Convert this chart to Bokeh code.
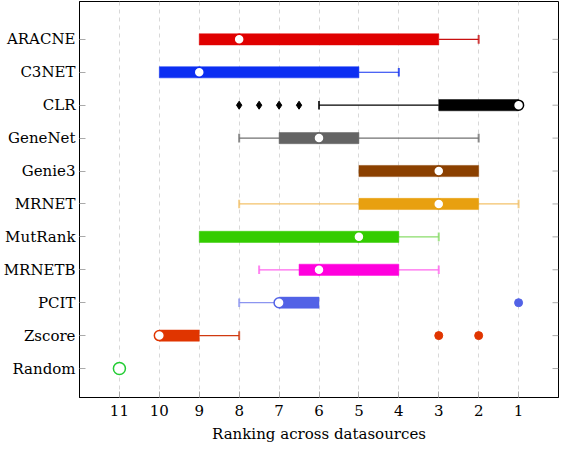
from bokeh.plotting import figure
from bokeh.models import Range1d, FixedTicker, ColumnDataSource
from bokeh.embed import file_html
from bokeh.resources import INLINE

names = ["ARACNE", "C3NET", "CLR", "GeneNet", "Genie3", "MRNET", "MutRank", "MRNETB", "PCIT", "Zscore"]
whisker_left = [9, 10, 6, 8, 5, 8, 9, 7.5, 8, 10]
box_left = [9, 10, 3, 7, 5, 5, 9, 6.5, 7, 10]
medians = [8, 9, 1, 6, 3, 3, 5, 6, 7, 10]
box_right = [3, 5, 1, 5, 2, 2, 4, 4, 6, 9]
whisker_right = [2, 4, 1, 2, 2, 1, 3, 3, 6, 8]
box_colors = ["#E00000", "#0C2EF2", "#000000", "#646464", "#8B4000", "#E8A010",
              "#33CC00", "#FF00DD", "#5262E6", "#E03500"]
whisker_colors = ["#C81010", "#1030F0", "#000000", "#707070", "#8B4000", "#F3C26A",
                  "#8ADD6A", "#FF66EE", "#8C95F0", "#D03A10"]

outlier_series = ["CLR", "CLR", "CLR", "CLR", "PCIT", "Zscore", "Zscore"]
outlier_values = [8, 7.5, 7, 6.5, 1, 3, 2]

random_label = "Random"
random_value = 11

all_labels = names + [random_label]
x_ticks = [1, 2, 3, 4, 5, 6, 7, 8, 9, 10, 11]

ypos = list(range(len(names)))
color_of = dict(zip(names, box_colors))

p = figure(width=559, height=445, output_backend="svg", toolbar_location=None,
           x_range=Range1d(12, 0), y_range=Range1d(10.88, -1.15),
           min_border_left=78, min_border_right=1, min_border_top=1, min_border_bottom=43)

p.outline_line_color = "black"
p.outline_line_width = 1
p.background_fill_color = "white"
p.border_fill_color = "white"

p.xgrid.ticker = FixedTicker(ticks=x_ticks)
p.xgrid.grid_line_color = "#d8d8d8"
p.xgrid.grid_line_dash = "4 4"
p.ygrid.grid_line_color = None

p.xaxis.ticker = FixedTicker(ticks=x_ticks)
p.yaxis.ticker = FixedTicker(ticks=list(range(len(all_labels))))
p.yaxis.major_label_overrides = {i: lab for i, lab in enumerate(all_labels)}
p.xaxis.axis_label = "Ranking across datasources"

font = "DejaVu Serif"
for ax in (p.xaxis, p.yaxis):
    ax.major_label_text_font = font
    ax.major_label_text_font_size = "15px"
    ax.major_label_text_color = "black"
    ax.axis_label_text_font = font
    ax.axis_label_text_font_size = "15px"
    ax.axis_label_text_font_style = "normal"
    ax.axis_label_text_color = "black"
    ax.axis_line_color = "black"
    ax.major_tick_in = 6
    ax.major_tick_out = 0
    ax.major_tick_line_color = "#aaaaaa"
    ax.minor_tick_line_color = None
p.yaxis.major_label_standoff = 4
p.xaxis.major_label_standoff = 7
p.xaxis.axis_label_standoff = 6

# inward ticks on the right border
tick_rows = list(range(len(all_labels)))
p.segment(x0=[0] * len(tick_rows), y0=tick_rows, x1=[0.15] * len(tick_rows), y1=tick_rows,
          line_color="#aaaaaa", line_width=1)

# whiskers
src = ColumnDataSource(dict(y=ypos, wl=whisker_left, bl=box_left, med=medians,
                            br=box_right, wr=whisker_right, bc=box_colors, wc=whisker_colors))
p.segment(x0="wl", y0="y", x1="bl", y1="y", line_color="wc", line_width=1.2, source=src)
p.segment(x0="br", y0="y", x1="wr", y1="y", line_color="wc", line_width=1.2, source=src)

# caps (only where whisker extends beyond box)
cap_x, cap_y, cap_c = [], [], []
for i in range(len(names)):
    if whisker_left[i] != box_left[i]:
        cap_x.append(whisker_left[i]); cap_y.append(ypos[i]); cap_c.append(whisker_colors[i])
    if whisker_right[i] != box_right[i]:
        cap_x.append(whisker_right[i]); cap_y.append(ypos[i]); cap_c.append(whisker_colors[i])
p.segment(x0=cap_x, y0=[y - 0.13 for y in cap_y], x1=cap_x, y1=[y + 0.13 for y in cap_y],
          line_color=cap_c, line_width=2, line_alpha=0.8)

# boxes
p.hbar(y="y", left="bl", right="br", height=0.34, fill_color="bc", line_color="bc",
       line_width=0.5, source=src)

# outliers
o_y = [names.index(s) for s in outlier_series]
o_c = [color_of[s] for s in outlier_series]
clr_mask = [s == "CLR" for s in outlier_series]
p.scatter([v for v, m in zip(outlier_values, clr_mask) if m],
          [y for y, m in zip(o_y, clr_mask) if m], marker="diamond", size=8,
          fill_color="black", line_color="black")
p.scatter([v for v, m in zip(outlier_values, clr_mask) if not m],
          [y for y, m in zip(o_y, clr_mask) if not m], marker="circle", size=8,
          fill_color=[c for c, m in zip(o_c, clr_mask) if not m],
          line_color=[c for c, m in zip(o_c, clr_mask) if not m])

# medians
p.scatter(x="med", y="y", marker="circle", size=10, fill_color="white",
          line_color="bc", line_width=1.5, source=src)

# random
p.scatter([random_value], [len(names)], marker="circle", size=12, fill_color="white",
          line_color="#22CC33", line_width=1.5)

open("out.html", "w").write(file_html(p, INLINE))
